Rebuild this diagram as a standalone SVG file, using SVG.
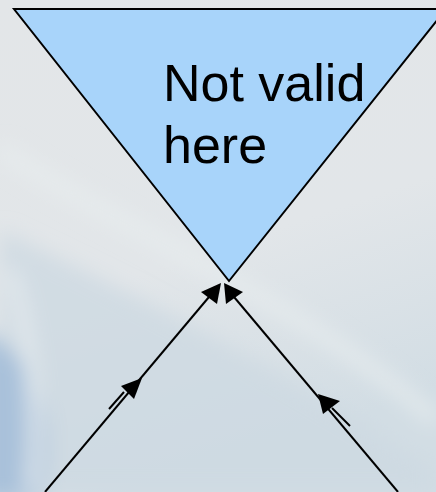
<svg xmlns="http://www.w3.org/2000/svg" width="436" height="492" viewBox="0 0 436 492">
  <defs>
    <linearGradient id="bg" x1="0" y1="0" x2="0.3" y2="1">
      <stop offset="0" stop-color="#e3e6e8"/>
      <stop offset="0.6" stop-color="#e2e6e9"/>
      <stop offset="1" stop-color="#d2dde4"/>
    </linearGradient>
    <radialGradient id="glow" cx="0" cy="1" r="1" gradientTransform="translate(0,0)">
      <stop offset="0" stop-color="#9fbcd9"/>
      <stop offset="0.35" stop-color="#c0d2e0"/>
      <stop offset="1" stop-color="#c8d8e2" stop-opacity="0"/>
    </radialGradient>
    <filter id="soft" x="-50%" y="-50%" width="200%" height="200%">
      <feGaussianBlur stdDeviation="10"/>
    </filter>
    <style>
      .edge { stroke: #000; stroke-width: 2; fill: none; }
      .head { fill: #000; stroke: none; }
      .label { font-family: "Liberation Sans", Arial, sans-serif; font-size: 52px; fill: #000; }
    </style>
  </defs>

  <!-- backdrop -->
  <rect width="436" height="492" fill="url(#bg)"/>
  <g filter="url(#soft)">
    <path d="M0 230 C 60 260 220 330 436 470 L436 492 L0 492 Z" fill="#cddae2" opacity="0.8"/>
    <path d="M-20 330 C 40 360 60 420 40 500 L -20 500 Z" fill="#a9c1da"/>
    <path d="M10 270 C 30 330 40 420 30 492" stroke="#e6ecef" stroke-width="10" fill="none"/>
    <path d="M0 150 C 120 230 300 300 436 420" stroke="#e9edef" stroke-width="14" fill="none" opacity="0.8"/>
  </g>

  <!-- inverted triangle node -->
  <g id="not-valid">
    <polygon points="14,9 446,9 229,281" fill="#a8d4fa" stroke="#000" stroke-width="2"/>
    <text class="label" x="163" y="101">Not valid</text>
    <text class="label" x="163" y="163">here</text>
  </g>

  <!-- connectors -->
  <g id="connectors">
    <line class="edge" x1="45" y1="492" x2="214" y2="291"/>
    <line class="edge" x1="398" y1="492" x2="229" y2="291"/>
    <!-- doubled stroke segments below the middle arrowheads -->
    <line class="edge" x1="109" y1="409" x2="124" y2="392" stroke-width="1.6"/>
    <line class="edge" x1="332" y1="408" x2="350" y2="426" stroke-width="1.6"/>
    <!-- end arrowheads -->
    <polygon class="head" points="221,283 201,292 217,304"/>
    <polygon class="head" points="224,283 226,304 243,292"/>
    <!-- middle arrowheads -->
    <polygon class="head" points="142,378 121,386 134,399"/>
    <polygon class="head" points="318,394 323,414 340,401"/>
  </g>
</svg>
